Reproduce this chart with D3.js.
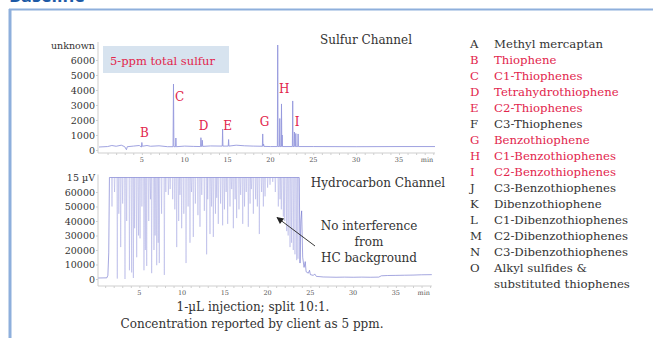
<!DOCTYPE html>
<html>
<head>
<meta charset="utf-8">
<script src="https://cdn.jsdelivr.net/npm/d3@7"></script>
<style>
  body { margin: 0; background: #fff; }
  svg { display: block; }
  text { font-family: "DejaVu Serif", serif; }
</style>
</head>
<body>
<svg id="chart" width="653" height="338"></svg>
<script>
// --- data ---
const timeTicks = [5, 10, 15, 20, 25, 30, 35];
const sulfurTicks = [0, 1000, 2000, 3000, 4000, 5000, 6000];
const hcTicks = [0, 10000, 20000, 30000, 40000, 50000, 60000];

// sulfur channel trace: [minutes, counts]
const sulfurTrace = [
  [0, 200], [1, 230], [1.5, 300], [2, 250], [2.6, 320], [3.0, 220], [3.2, 20], [3.3, 220],
  [4, 260], [4.7, 300], [4.95, 200], [5.0, 500], [5.05, 250], [5.6, 300], [6, 250], [7, 280],
  [8, 220], [8.64, 220], [8.69, 4400], [8.74, 220], [8.93, 220], [8.97, 800], [9.01, 220],
  [10, 260], [11, 240], [11.85, 230], [11.89, 820], [11.95, 240], [12.02, 240], [12.05, 650],
  [12.1, 240], [13, 270], [14.38, 260], [14.42, 1400], [14.46, 260], [15.08, 260], [15.12, 700],
  [15.16, 260], [16, 320], [17, 280], [18, 260], [19.06, 250], [19.1, 1070], [19.14, 250],
  [19.2, 400], [19.25, 240], [20, 230], [20.81, 230], [20.85, 7000], [20.89, 230], [21.05, 230],
  [21.09, 2100], [21.13, 230], [21.25, 230], [21.29, 3070], [21.33, 230], [21.37, 1000],
  [21.41, 230], [22.56, 230], [22.6, 3270], [22.64, 230], [22.76, 230], [22.8, 1200], [22.84, 230],
  [22.92, 230], [22.96, 1100], [23.0, 230], [23.19, 230], [23.23, 1070], [23.27, 230],
  [25, 230], [30, 220], [35, 230], [39.2, 230]
];

// peak letters on the sulfur channel: [letter, minutes, counts]
const sulfurLabels = [
  ["B", 5.3, 900], ["C", 9.4, 3300], ["D", 12.2, 1350], ["E", 15.0, 1350],
  ["G", 19.3, 1600], ["H", 21.6, 3800], ["I", 23.1, 1600]
];

// hydrocarbon channel envelope: [minutes, µV counts], off-scale part clipped at the top
const hcEnvelope = [
  [0.2, 700], [1.2, 800], [1.32, 2500], [1.42, 18000], [1.5, 80000],
  [23.7, 80000], [23.79, 11000], [23.88, 40000], [23.98, 47000], [24.1, 15000], [24.26, 8000],
  [24.4, 12000], [24.5, 5000], [24.76, 4000], [24.9, 6000], [25.0, 3000], [25.35, 2500],
  [25.5, 3500], [25.7, 1800], [26.13, 1600], [26.5, 1400], [27.3, 1300], [28, 1200], [29, 1300],
  [30, 1200], [31, 1300], [32, 1200], [33, 1300], [33.3, 2200], [34, 2400], [35, 2500],
  [36, 2600], [37, 2700], [38, 2900], [39.2, 3000]
];

// valleys between the off-scale hydrocarbon peaks: [minutes, µV counts]
const hcValleys = [
  [1.8, 50000], [2.1, 60000], [2.42, 300], [2.6, 45000], [2.82, 22000], [3.05, 52000],
  [3.32, -1000], [3.52, 40000], [3.84, 6000], [4.1, 4500], [4.3, 700], [4.45, 35000],
  [4.69, 15000], [4.9, 30000], [5.08, 28000], [5.3, 50000], [5.54, 6000], [5.7, 20000],
  [5.86, 9000], [6.1, 40000], [6.3, 55000], [6.44, 4000], [6.71, 20000], [6.85, 30000],
  [7.03, 9500], [7.2, 25000], [7.33, 11000], [7.6, 45000], [7.92, 2800], [8.1, 60000],
  [8.39, 58000], [8.6, 62000], [8.9, 55000], [9.15, 48000], [9.37, 22000], [9.6, 40000],
  [9.75, 58000], [9.95, 35000], [10.2, 45000], [10.46, 11000], [10.7, 50000], [10.92, 25000],
  [11.1, 60000], [11.31, 29000], [11.55, 52000], [11.85, 44000], [12.09, 36000], [12.3, 58000],
  [12.6, 47000], [12.87, 17000], [13.0, 55000], [13.26, 31000], [13.45, 50000], [13.65, 29000],
  [13.9, 45000], [14.05, 56000], [14.23, 38000], [14.5, 52000], [14.74, 37000], [14.95, 48000],
  [15.15, 60000], [15.33, 38000], [15.6, 50000], [15.8, 62000], [15.99, 35000], [16.2, 55000],
  [16.38, 42000], [16.65, 48000], [16.85, 58000], [17.09, 38000], [17.3, 50000], [17.5, 60000],
  [17.74, 36000], [17.95, 52000], [18.1, 62000], [18.33, 45000], [18.6, 55000], [18.8, 50000],
  [19.03, 31000], [19.3, 60000], [19.5, 50000], [19.7, 57000], [20.0, 63000], [20.28, 65000],
  [20.6, 67000], [20.9, 60000], [21.25, 50000], [21.45, 55000], [21.6, 48000], [21.84, 43000],
  [22.0, 40000], [22.23, 33000], [22.4, 30000], [22.62, 22000], [22.8, 25000], [23.0, 20000],
  [23.2, 17000], [23.4, 13000], [23.55, 14000]
];

const legendCodes = ["A", "B", "C", "D", "E", "F", "G", "H", "I", "J", "K", "L", "M", "N", "O"];
const legendNames = [
  "Methyl mercaptan", "Thiophene", "C1-Thiophenes", "Tetrahydrothiophene", "C2-Thiophenes",
  "C3-Thiophenes", "Benzothiophene", "C1-Benzothiophenes", "C2-Benzothiophenes",
  "C3-Benzothiophenes", "Dibenzothiophene", "C1-Dibenzothiophenes", "C2-Dibenzothiophenes",
  "C3-Dibenzothiophenes", "Alkyl sulfides &"
];
const legendFound = ["B", "C", "D", "E", "G", "H", "I"];

const red = "#e2254c";
const ink = "#333";

const svg = d3.select("#chart");

// page frame
svg.append("text").attr("x", 9).attr("y", 2)
  .style("font-family", "'Open Sans', sans-serif").style("font-weight", "bold")
  .style("font-size", "18px").attr("fill", "#1d5aa6").text("Baseline");
svg.append("line").attr("x1", 9).attr("x2", 653).attr("y1", 9.5).attr("y2", 9.5)
  .attr("stroke", "#8eafdc").attr("stroke-width", 2);
svg.append("line").attr("x1", 10).attr("x2", 10).attr("y1", 9).attr("y2", 338)
  .attr("stroke", "#8eafdc").attr("stroke-width", 3);

function drawAxes(x, y, axisY, ticks, top) {
  const gx = svg.append("g").attr("transform", `translate(0,${axisY})`);
  gx.call(d3.axisBottom(x).tickValues(d3.range(1, 40)).tickSize(2).tickFormat(""));
  gx.select(".domain").attr("d", `M98,0H${x.range()[1]}`);
  gx.selectAll("path, line").attr("stroke", "#cfcfcf");
  gx.selectAll(".tlabel")
    .data(timeTicks).enter().append("text").attr("class", "tlabel")
    .attr("x", d => x(d)).attr("y", 8.5).attr("text-anchor", "middle")
    .style("font-size", "6.5px").attr("fill", "#555").text(d => d);
  gx.append("text").attr("x", x.range()[1] - 8).attr("y", 8.5).attr("text-anchor", "middle")
    .style("font-size", "6.5px").attr("fill", "#555").text("min");

  const gy = svg.append("g").attr("transform", "translate(98,0)");
  gy.call(d3.axisLeft(y).tickValues(ticks).tickSize(2).tickFormat(""));
  gy.select(".domain").attr("d", `M0,${y.range()[1] - 3}V${axisY}`);
  gy.selectAll("path, line").attr("stroke", "#cfcfcf");
  gy.selectAll(".ylabel")
    .data(ticks).enter().append("text").attr("class", "ylabel")
    .attr("x", -3).attr("y", d => y(d) + 3.5).attr("text-anchor", "end")
    .style("font-size", "9.5px").attr("fill", ink).text(d => d);
  gy.append("text").attr("x", -3).attr("y", y.range()[1] + 3.5).attr("text-anchor", "end")
    .style("font-size", "9.5px").attr("fill", ink).text(top);
}

// ---------- sulfur channel ----------
const xS = d3.scaleLinear().domain([0, 39.2]).range([99, 435]);
const yS = d3.scaleLinear().domain([0, 7000]).range([150, 45]);

svg.append("rect").attr("x", 103).attr("y", 46).attr("width", 126).attr("height", 27)
  .attr("fill", "#d7e3ef");
svg.append("text").attr("x", 110).attr("y", 64.5).attr("fill", red)
  .style("font-size", "11.5px").text("5-ppm total sulfur");

drawAxes(xS, yS, 153, sulfurTicks, "unknown");

const lineS = d3.line().x(d => xS(d[0])).y(d => yS(d[1]));
svg.append("path").datum(sulfurTrace).attr("d", lineS)
  .attr("fill", "none").attr("stroke", "#9497dc").attr("stroke-width", 0.9);

svg.selectAll(".peak").data(sulfurLabels).enter().append("text")
  .attr("x", d => xS(d[1])).attr("y", d => yS(d[2])).attr("text-anchor", "middle")
  .style("font-size", "12px").attr("fill", red).text(d => d[0]);

svg.append("text").attr("x", 366).attr("y", 43.5).attr("text-anchor", "middle")
  .style("font-size", "12px").attr("fill", ink).text("Sulfur Channel");

// ---------- hydrocarbon channel ----------
const xH = d3.scaleLinear().domain([0, 39.2]).range([96.6, 431.8]);
const yH = d3.scaleLinear().domain([0, 70000]).range([279, 177.5]).clamp(true);

drawAxes(xH, yH, 286, hcTicks, "15 µV");

const lineH = d3.line().x(d => xH(d[0])).y(d => yH(d[1]));
svg.append("path").datum(hcEnvelope).attr("d", lineH)
  .attr("fill", "none").attr("stroke", "#6f73cc").attr("stroke-opacity", 0.7)
  .attr("stroke-width", 0.9);

// each valley: trace drops from the clipped top into the valley and climbs back
svg.append("g").selectAll("path").data(hcValleys).enter().append("path")
  .attr("d", d => `M${xH(d[0] - 0.05)},${yH.range()[1]}L${xH(d[0])},${yH(d[1])}L${xH(d[0] + 0.05)},${yH.range()[1]}`)
  .attr("fill", "none").attr("stroke", "#9093da").attr("stroke-opacity", 0.45)
  .attr("stroke-width", 0.8);

svg.append("text").attr("x", 378).attr("y", 187).attr("text-anchor", "middle")
  .style("font-size", "12px").attr("fill", ink).text("Hydrocarbon Channel");

const note = svg.append("text").attr("text-anchor", "middle")
  .style("font-size", "12px").attr("fill", ink);
["No interference", "from", "HC background"].forEach((t, i) =>
  note.append("tspan").attr("x", 369).attr("y", 230 + i * 15.8).text(t));

svg.append("defs").append("marker").attr("id", "head")
  .attr("viewBox", "0 0 10 10").attr("refX", 9).attr("refY", 5)
  .attr("markerWidth", 9).attr("markerHeight", 7).attr("orient", "auto")
  .attr("markerUnits", "userSpaceOnUse")
  .append("path").attr("d", "M0,0L10,5L0,10z").attr("fill", "#222");
svg.append("line").attr("x1", 315).attr("y1", 246).attr("x2", 277).attr("y2", 217.5)
  .attr("stroke", "#222").attr("stroke-width", 0.9).attr("marker-end", "url(#head)");

// captions
svg.append("text").attr("x", 253).attr("y", 311).attr("text-anchor", "middle")
  .style("font-size", "12px").attr("fill", ink).text("1-µL injection; split 10:1.");
svg.append("text").attr("x", 252).attr("y", 328).attr("text-anchor", "middle")
  .style("font-size", "12px").attr("fill", ink).text("Concentration reported by client as 5 ppm.");

// ---------- legend ----------
const leg = svg.append("g");
legendCodes.forEach((c, i) => {
  const col = legendFound.includes(c) ? red : ink;
  leg.append("text").attr("x", 470).attr("y", 47.5 + i * 16).style("font-size", "11.7px")
    .attr("fill", col).text(c);
  leg.append("text").attr("x", 494).attr("y", 47.5 + i * 16).style("font-size", "11.7px")
    .attr("fill", col).text(legendNames[i]);
});
leg.append("text").attr("x", 494).attr("y", 47.5 + 15 * 16).style("font-size", "11.7px")
  .attr("fill", ink).text("substituted thiophenes");
</script>
</body>
</html>
